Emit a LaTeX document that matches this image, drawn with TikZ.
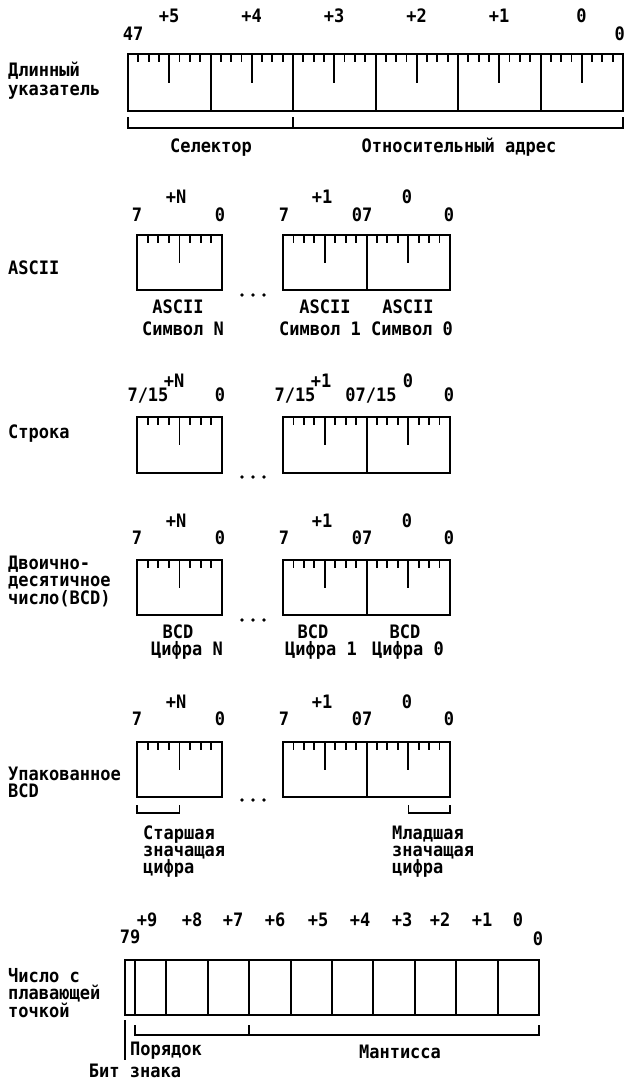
\documentclass[tikz,border=0pt]{standalone}
\usepackage{fontspec}
\newfontfamily\monofam{DejaVu Sans Mono}[FakeStretch=0.92]
\newcommand\lbfont{\monofam\bfseries\fontsize{18.5}{18.5}\selectfont}
\tikzset{
  lbl/.style={font=\lbfont, inner sep=0pt, anchor=base},
  lft/.style={lbl, anchor=base west},
  frame/.style={line width=2pt},
  tick/.style={line width=1.8pt},
  brace/.style={line width=1.8pt},
}
\newcommand\byteticks[4]{%
  \foreach \k in {1,2,3,5,6,7}{\draw[tick] ({#1+\k*#2/8},#3) -- ++(0,8);}
  \draw[tick] ({#1+#2/2},#3) -- ++(0,#4);
}
\newcommand\smallgroup[2]{%
  \draw[frame] (137,#1) rectangle (222,#2);
  \draw[frame] (283,#1) rectangle (450,#2);
  \draw[frame] (366.5,#1) -- (366.5,#2);
  \byteticks{137}{85}{#1}{28}
  \byteticks{283}{83.5}{#1}{28}
  \byteticks{366.5}{83.5}{#1}{28}
}
\newcommand\threedots[1]{\foreach \dx in {242,253,264}{\fill (\dx,#1) circle (1.8pt);}}
\begin{document}
\begin{tikzpicture}[x=1pt,y=-1pt]
\useasboundingbox (0,0) rectangle (625,1081);

% ---------------- long pointer
\draw[frame] (128,54) rectangle (623,111);
\foreach \i in {1,...,5} \draw[frame] ({128+\i*82.5},54) -- ({128+\i*82.5},111);
\foreach \i in {0,...,5} {\byteticks{128+\i*82.5}{82.5}{54}{29}}
\foreach \t/\x [count=\n] in {+5/169,+4/251.5,+3/334,+2/416.5,+1/499,0/581.5}
  \node[lbl] (lpt\n) at (\x,22.5) {\t};
\node[lbl] (lp47) at (133,40.5) {47};
\node[lbl, anchor=base east] (lpz) at (625,40.5) {0};
\draw[brace] (128,117) -- (128,128) -- (623,128) -- (623,117);
\draw[brace] (293,117) -- (293,128);
\node[lbl] (sel) at (211,152.5) {Селектор};
\node[lbl] (rel) at (459,152.5) {Относительный адрес};
\node[lft] (lpa) at (8,77) {Длинный};
\node[lft] (lpb) at (8,95) {указатель};

% ---------------- ASCII
\smallgroup{235}{290}
\threedots{295}
\node[lbl] (aN) at (176,203) {+N};
\node[lbl] (a1) at (322,203) {+1};
\node[lbl] (a0) at (407,203) {0};
\node[lbl] (ab1) at (137,221) {7};
\node[lbl] (ab2) at (220,221) {0};
\node[lbl] (ab3) at (284,221) {7};
\node[lbl] (ab4) at (362,221) {07};
\node[lbl] (ab5) at (449,221) {0};
\node[lbl] (aa1) at (178,313.5) {ASCII};
\node[lbl] (aa2) at (325,313.5) {ASCII};
\node[lbl] (aa3) at (408,313.5) {ASCII};
\node[lbl] (as1) at (183,335.5) {Символ N};
\node[lbl] (as2) at (320,335.5) {Символ 1};
\node[lbl] (as3) at (412,335.5) {Символ 0};
\node[lft] (al) at (8,274.5) {ASCII};

% ---------------- Строка
\smallgroup{417}{473}
\threedots{477}
\node[lbl] (sN) at (174,387) {+N};
\node[lbl] (s1) at (321,387) {+1};
\node[lbl] (s0) at (408,387) {0};
\node[lbl] (sb1) at (148,401) {7/15};
\node[lbl] (sb2) at (220,401) {0};
\node[lbl] (sb3) at (295,401) {7/15};
\node[lbl] (sb4) at (371,401) {07/15};
\node[lbl] (sb5) at (449,401) {0};
\node[lft] (sl) at (8,438) {Строка};

% ---------------- BCD
\smallgroup{560}{615}
\threedots{620}
\node[lbl] (bN) at (176,527) {+N};
\node[lbl] (b1) at (322,527) {+1};
\node[lbl] (b0) at (407,527) {0};
\node[lbl] (bb1) at (137,544) {7};
\node[lbl] (bb2) at (220,544) {0};
\node[lbl] (bb3) at (284,544) {7};
\node[lbl] (bb4) at (362,544) {07};
\node[lbl] (bb5) at (449,544) {0};
\node[lbl] (bc1) at (178,638.5) {BCD};
\node[lbl] (bc2) at (313,638.5) {BCD};
\node[lbl] (bc3) at (405,638.5) {BCD};
\node[lbl] (bd1) at (187,655) {Цифра N};
\node[lbl] (bd2) at (321,655) {Цифра 1};
\node[lbl] (bd3) at (408,655) {Цифра 0};
\node[lft] (bl1) at (8,569) {Двоично-};
\node[lft] (bl2) at (8,586.5) {десятичное};
\node[lft] (bl3) at (8,604) {число(BCD)};

% ---------------- Packed BCD
\smallgroup{742}{797}
\threedots{800}
\node[lbl] (pN) at (176,708.5) {+N};
\node[lbl] (p1) at (322,708.5) {+1};
\node[lbl] (p0) at (407,708.5) {0};
\node[lbl] (pb1) at (137,725.5) {7};
\node[lbl] (pb2) at (220,725.5) {0};
\node[lbl] (pb3) at (284,725.5) {7};
\node[lbl] (pb4) at (362,725.5) {07};
\node[lbl] (pb5) at (449,725.5) {0};
\node[lft] (pl1) at (8,780) {Упакованное};
\node[lft] (pl2) at (8,797.5) {BCD};
\draw[brace] (137,805) -- (137,813) -- (179.5,813) -- (179.5,805);
\draw[brace] (408.5,805) -- (408.5,813) -- (450,813) -- (450,805);
\node[lft] (ph1) at (143,839) {Старшая};
\node[lft] (ph2) at (143,856) {значащая};
\node[lft] (ph3) at (143,873) {цифра};
\node[lft] (pm1) at (392,839) {Младшая};
\node[lft] (pm2) at (392,856) {значащая};
\node[lft] (pm3) at (392,873) {цифра};

% ---------------- Floating point
\draw[frame] (125,960) rectangle (539,1015);
\draw[frame] (135,960) -- (135,1015);
\foreach \i in {1,...,9} \draw[frame] ({125+\i*41.4},960) -- ({125+\i*41.4},1015);
\foreach \t/\x [count=\n] in {+9/147,+8/192,+7/233,+6/275,+5/318,+4/360,+3/402,+2/440,+1/482,0/518}
  \node[lbl] (ft\n) at (\x,926) {\t};
\node[lbl] (f79) at (130,943) {79};
\node[lbl] (fz) at (538,945) {0};
\node[lft] (fl1) at (8,982) {Число с};
\node[lft] (fl2) at (8,999.5) {плавающей};
\node[lft] (fl3) at (8,1017) {точкой};
\draw[brace] (135,1025) -- (135,1035) -- (539,1035) -- (539,1025);
\draw[brace] (249.2,1025) -- (249.2,1035);
\draw[brace] (125,1020) -- (125,1060);
\node[lbl] (fpo) at (166,1055) {Порядок};
\node[lbl] (fma) at (400,1058) {Мантисса};
\node[lbl] (fsb) at (135,1077) {Бит знака};
\end{tikzpicture}
\end{document}
